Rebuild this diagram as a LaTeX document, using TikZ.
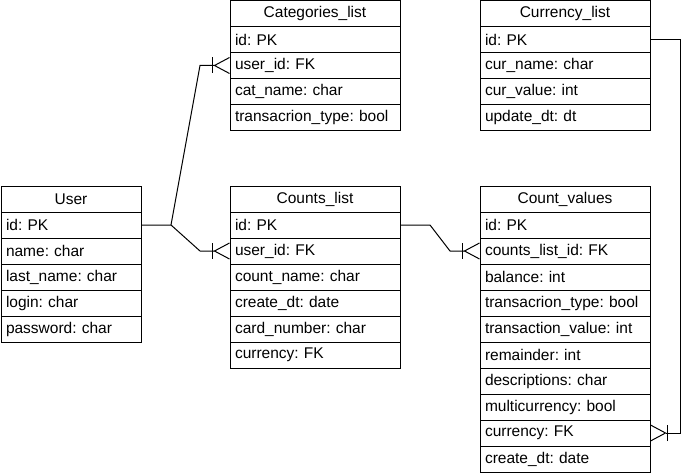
\documentclass[tikz,border=0pt]{standalone}
\usepackage{fontspec}
\setmainfont{Liberation Sans}
\usetikzlibrary{positioning,arrows.meta}
\frenchspacing
\begin{document}
\begin{tikzpicture}[x=1pt, y=-1pt, line width=1pt, every node/.style={font=\fontsize{15.5}{18}\selectfont}]
    \tikzset{tabhead/.style={draw, minimum width=#1, minimum height=26pt, inner sep=0pt, outer sep=0pt, anchor=north west},
             tabrow/.style={draw, text width=#1, minimum height=26pt, inner xsep=5pt, inner ysep=0pt, outer sep=0pt, align=left},
             crow/.style={-{Bar[width=16pt]Straight Barb[reversed,length=15pt,width=16pt]}}};
    \useasboundingbox (0,0) rectangle (698,476);
    % User
    \node[tabhead=140pt] (uH) at (1,186) {User};
    \node[tabrow=130pt, below=0pt of uH] (uId) {id: PK};
    \node[tabrow=130pt, below=0pt of uId] (uName) {name: char};
    \node[tabrow=130pt, below=0pt of uName] (uLast) {last\_name: char};
    \node[tabrow=130pt, below=0pt of uLast] (uLogin) {login: char};
    \node[tabrow=130pt, below=0pt of uLogin] (uPass) {password: char};
    % Categories_list
    \node[tabhead=170pt] (catH) at (230,0.5) {Categories\_list};
    \node[tabrow=160pt, below=0pt of catH] (catId) {id: PK};
    \node[tabrow=160pt, below=0pt of catId] (catUid) {user\_id: FK};
    \node[tabrow=160pt, below=0pt of catUid] (catName) {cat\_name: char};
    \node[tabrow=160pt, below=0pt of catName] (catType) {transacrion\_type: bool};
    % Counts_list
    \node[tabhead=170pt] (cnH) at (230,186) {Counts\_list};
    \node[tabrow=160pt, below=0pt of cnH] (cnId) {id: PK};
    \node[tabrow=160pt, below=0pt of cnId] (cnUid) {user\_id: FK};
    \node[tabrow=160pt, below=0pt of cnUid] (cnName) {count\_name: char};
    \node[tabrow=160pt, below=0pt of cnName] (cnDt) {create\_dt: date};
    \node[tabrow=160pt, below=0pt of cnDt] (cnCard) {card\_number: char};
    \node[tabrow=160pt, below=0pt of cnCard] (cnCur) {currency: FK};
    % Currency_list
    \node[tabhead=170pt] (curH) at (480,0.5) {Currency\_list};
    \node[tabrow=160pt, below=0pt of curH] (curId) {id: PK};
    \node[tabrow=160pt, below=0pt of curId] (curName) {cur\_name: char};
    \node[tabrow=160pt, below=0pt of curName] (curVal) {cur\_value: int};
    \node[tabrow=160pt, below=0pt of curVal] (curDt) {update\_dt: dt};
    % Count_values
    \node[tabhead=170pt] (vH) at (480,186) {Count\_values};
    \node[tabrow=160pt, below=0pt of vH] (vId) {id: PK};
    \node[tabrow=160pt, below=0pt of vId] (vClid) {counts\_list\_id: FK};
    \node[tabrow=160pt, below=0pt of vClid] (vBal) {balance: int};
    \node[tabrow=160pt, below=0pt of vBal] (vType) {transacrion\_type: bool};
    \node[tabrow=160pt, below=0pt of vType] (vVal) {transaction\_value: int};
    \node[tabrow=160pt, below=0pt of vVal] (vRem) {remainder: int};
    \node[tabrow=160pt, below=0pt of vRem] (vDesc) {descriptions: char};
    \node[tabrow=160pt, below=0pt of vDesc] (vMulti) {multicurrency: bool};
    \node[tabrow=160pt, below=0pt of vMulti] (vCur) {currency: FK};
    \node[tabrow=160pt, below=0pt of vCur] (vDt) {create\_dt: date};
    {
      \draw[crow] (uId.east) -- ++(30,0) coordinate (uJ) -- ([xshift=-30pt]catUid.west) -- (catUid.west);
      \draw[crow] (uJ) -- ([xshift=-30pt]cnUid.west) -- (cnUid.west);
      \draw[crow] (cnId.east) -- ++(30,0) -- ([xshift=-30pt]vClid.west) -- (vClid.west);
      \draw[crow] (curId.east) -- ++(30,0) |- (vCur.east);
    }
\end{tikzpicture}
\end{document}
